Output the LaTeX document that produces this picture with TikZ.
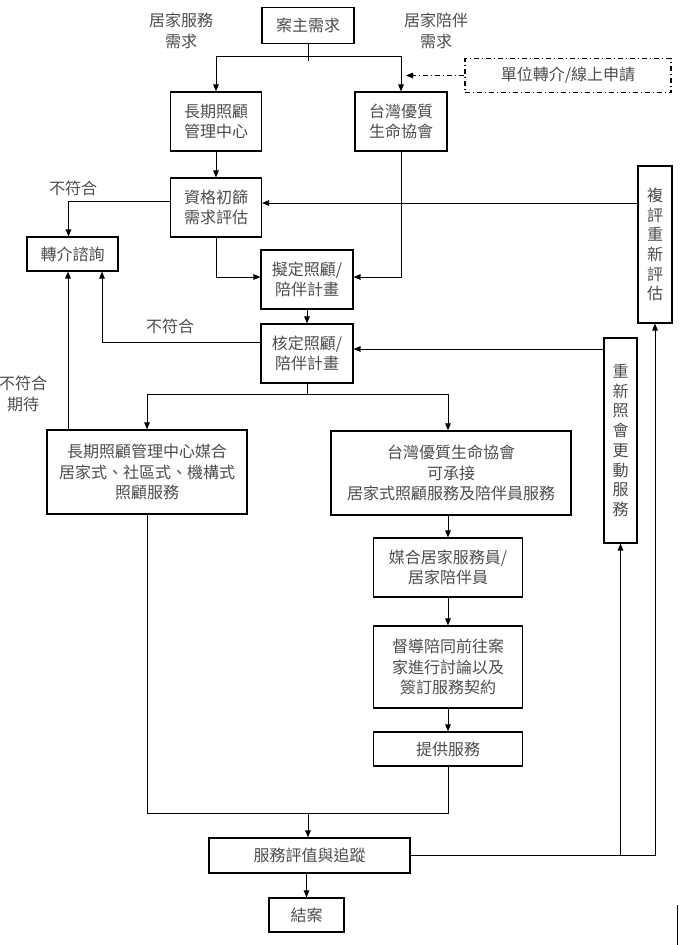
\documentclass[tikz,border=0pt]{standalone}
\usepackage{fontspec}
\setmainfont{Noto Sans CJK TC}
\usepackage{xcolor}
\usetikzlibrary{arrows.meta}

\begin{document}
\begin{tikzpicture}[x=1pt,y=-1pt,
  box/.style={draw,line width=1.1pt,inner sep=0pt,align=center,text=black!70,font=\fontsize{16}{20.5}\selectfont},
  vbox/.style={box,font=\fontsize{16}{19.7}\selectfont},
  lbl/.style={align=center,text=black!70,font=\fontsize{16}{20.5}\selectfont},
  arr/.style={-{Triangle[length=7pt,width=5.5pt]},line width=0.9pt},
  ln/.style={line width=0.9pt}]
\useasboundingbox (0,0) rectangle (681,945);

% Intake
\node[box,minimum width=92pt,minimum height=36pt] (need) at (308,25.5) {案主需求};
\node[lbl] (needL) at (181,31) {居家服務\\需求};
\node[lbl] (needR) at (436,31) {居家陪伴\\需求};
\node[box,dash pattern=on 5pt off 3pt on 1pt off 3pt,minimum width=206pt,minimum height=34pt] (online) at (568,75.5) {單位轉介/線上申請};
\node[box,minimum width=91pt,minimum height=59pt] (ltc) at (216,121.5) {長期照顧\\管理中心};
\node[box,minimum width=92pt,minimum height=59pt] (tw) at (401,121.5) {台灣優質\\生命協會};

% Assessment
\node[box,minimum width=91pt,minimum height=59pt] (eval) at (216,207.5) {資格初篩\\需求評估};
\node[box,minimum width=91pt,minimum height=34pt] (refer) at (72.5,254) {轉介諮詢};
\node[lbl] (no1) at (73,188) {不符合};
\node[box,minimum width=92pt,minimum height=59pt] (plan) at (307,279.5) {擬定照顧/\\陪伴計畫};
\node[box,minimum width=92pt,minimum height=59pt] (approve) at (307,353.5) {核定照顧/\\陪伴計畫};
\node[lbl] (no2) at (170,326) {不符合};
\node[lbl] (no3) at (23,394) {不符合\\期待};
\node[vbox,minimum width=34pt,minimum height=157pt] (reeval) at (655,244.5) {複\\評\\重\\新\\評\\估};
\node[vbox,minimum width=33pt,minimum height=205pt] (rematch) at (620.5,440.5) {重\\新\\照\\會\\更\\動\\服\\務};

% Services
\node[box,minimum width=200pt,minimum height=84pt] (match) at (147,472) {長期照顧管理中心媒合\\居家式、社區式、機構式\\照顧服務};
\node[box,minimum width=240pt,minimum height=84pt] (twserv) at (451,473) {台灣優質生命協會\\可承接\\居家式照顧服務及陪伴員服務};
\node[box,minimum width=149pt,minimum height=59pt] (staff) at (448,567.5) {媒合居家服務員/\\居家陪伴員};
\node[box,minimum width=149pt,minimum height=82pt] (visit) at (448,667) {督導陪同前往案\\家進行討論以及\\簽訂服務契約};
\node[box,minimum width=149pt,minimum height=34pt] (provide) at (448,749) {提供服務};
\node[box,minimum width=201pt,minimum height=35pt] (review) at (309.5,855.5) {服務評值與追蹤};
\node[box,minimum width=75pt,minimum height=34pt] (close) at (306.5,915) {結案};

% Connectors, top
\coordinate (split) at (308,56);
\draw[ln] (need.south) -- ++(0,17);
\draw[arr] (split) -| (ltc.north);
\draw[arr] (split) -| (tw.north);
\draw[arr,dash pattern=on 5pt off 3pt on 1pt off 3pt] (online.west) -- ([xshift=5pt]tw.north |- online.west);
\draw[arr] (ltc) -- (eval);
\draw[arr] ([yshift=6.5pt]eval.west) -| ([xshift=-4pt]refer.north);
\coordinate (e1) at ([yshift=4.5pt]eval.east);
\draw[arr] (reeval.west |- e1) -- (e1);
\draw[arr] (eval.south) |- ([yshift=2.5pt]plan.west);
\draw[arr] (tw.south) |- ([yshift=2.5pt]plan.east);
\draw[arr] (plan) -- (approve);
\draw[arr] ([yshift=11.5pt]approve.west) -| ([xshift=29.5pt]refer.south);
\coordinate (a1) at ([yshift=4.5pt]approve.east);
\draw[arr] (rematch.west |- a1) -- (a1);

% Connectors, bottom
\coordinate (split2) at (307,394);
\draw[ln] (approve.south) -- (split2);
\draw[arr] (split2) -| (match.north);
\draw[arr] (split2) -| (twserv.north -| staff.north);
\coordinate (r1) at ([xshift=-4.5pt]refer.south);
\draw[arr] (match.north -| r1) -- (r1);
\draw[arr] (twserv.south -| staff.north) -- (staff.north);
\draw[arr] (staff) -- (visit);
\draw[arr] (visit) -- (provide);
\coordinate (merge) at (308,813);
\draw[ln] (match.south) |- (merge) -| (provide.south);
\draw[arr] (merge) -- (merge |- review.north);
\draw[arr] (review.south -| close.north) -- (close.north);
\draw[arr] (review.east) -| (reeval.south);
\draw[arr] (review.east -| rematch.south) -- (rematch.south);
\draw[ln] (677,905) -- (677,945);
\end{tikzpicture}
\end{document}
